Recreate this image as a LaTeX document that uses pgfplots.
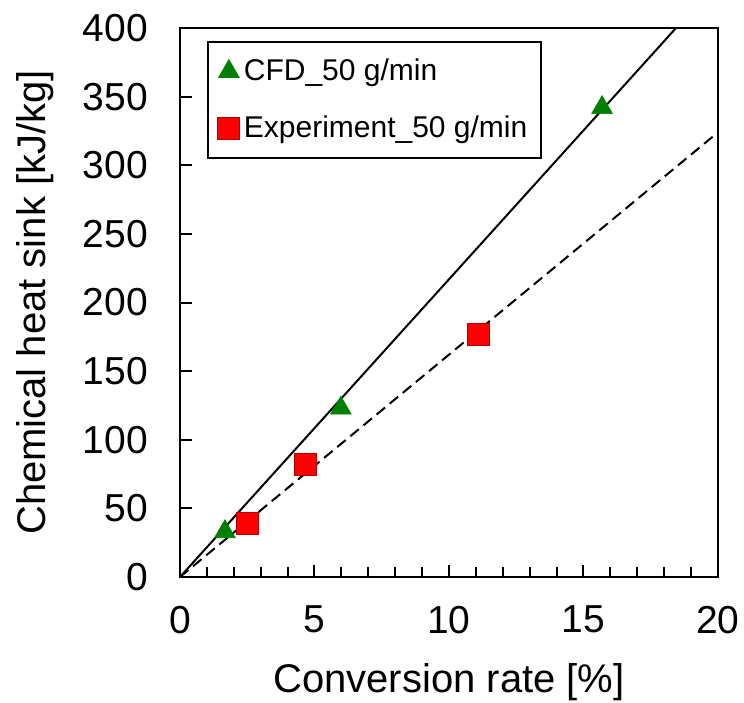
\documentclass[border=0pt]{standalone}
\usepackage{fontspec}
\setmainfont{Liberation Sans}
\usepackage{pgfplots}
\pgfplotsset{compat=1.18}

\definecolor{cfdgreen}{RGB}{0,128,0}
\definecolor{expred}{RGB}{255,0,0}

\begin{document}
\begin{tikzpicture}
% page = 744 x 702 px at 2 px per pt, axis lower-left at (0,0)
\path[use as bounding box] (-90pt,-62.5pt) rectangle (282pt,288.5pt);
\begin{axis}[
    scale only axis,
    width=269pt, height=274.5pt,
    xmin=0, xmax=20,
    ymin=0, ymax=400,
    xtick={0,5,...,20},
    ytick={0,50,...,400},
    minor x tick num=4,
    xtick pos=left, ytick pos=left,
    tick align=inside,
    major tick length=6pt,
    minor tick length=5pt,
    axis line style={line width=1pt},
    every tick/.style={black, line width=1pt},
    /pgf/number format/assume math mode=true,
    tick label style={font=\fontsize{19.5}{22}\selectfont},
    xticklabel style={yshift=-11pt},
    yticklabel style={xshift=-12.5pt},
    label style={font=\fontsize{20}{24}\selectfont},
    xlabel={Conversion rate [\%]},
    ylabel={Chemical heat sink [kJ/kg]},
    xlabel style={at={(axis description cs:0.5,-0.191)}, anchor=center},
    ylabel style={at={(axis description cs:-0.27,0.5)}, anchor=center},
    legend style={
        at={(axis description cs:0.05,0.976)}, anchor=north west,
        font=\fontsize{15}{18}\selectfont,
        draw=black, line width=1pt,
        inner xsep=5pt, inner ysep=6.5pt,
        row sep=12pt,
        cells={anchor=west},
    },
    legend image code/.code={\draw[line width=0.5pt] plot coordinates {(0.3cm,0cm)};},
]
% fitted lines
\addplot[black, line width=1pt, forget plot] coordinates {(0,0) (18.44,400)};
\addplot[black, line width=1pt, dash pattern=on 5.5pt off 3pt, forget plot] coordinates {(0,0) (20,324)};

% CFD
\addplot[only marks, mark=triangle*, mark size=6pt,
    mark options={fill=cfdgreen, draw=cfdgreen, line width=0.3pt}]
    coordinates {(1.67,33) (5.98,123) (15.69,342)};
\addlegendentry{CFD\_50 g/min}

% Experiment
\addplot[only marks, mark=square*, mark size=5.5pt,
    mark options={fill=expred, draw=expred!70!black, line width=0.4pt}]
    coordinates {(2.49,39) (4.65,82) (11.1,177)};
\addlegendentry{Experiment\_50 g/min}
\end{axis}
\end{tikzpicture}
\end{document}
